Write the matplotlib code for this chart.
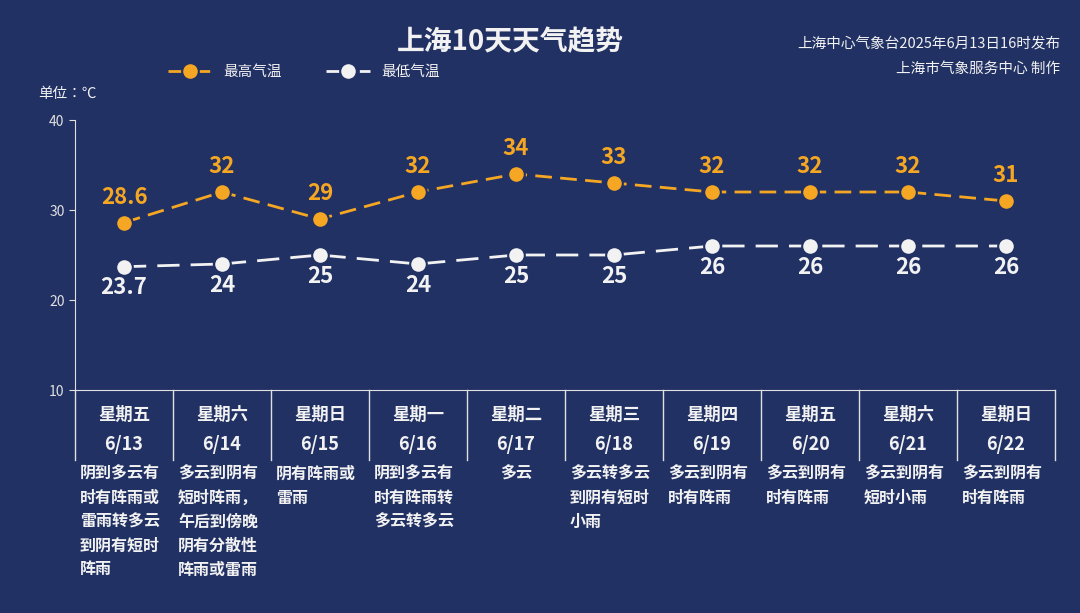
import matplotlib
matplotlib.use("Agg")
import matplotlib.pyplot as plt
import matplotlib.transforms as mtransforms
from matplotlib import font_manager as fm

cjk = [f.name for f in fm.fontManager.ttflist if "CJK" in f.name or "Noto Sans SC" in f.name]
pref = [n for n in ["Noto Sans CJK SC", "Noto Sans CJK JP", "Noto Sans CJK TC", "Noto Sans CJK KR"] if n in cjk]
fams = (pref or cjk[:1]) + ["DejaVu Sans"]
plt.rcParams["font.family"] = fams

weekdays = ["星期五", "星期六", "星期日", "星期一", "星期二", "星期三", "星期四", "星期五", "星期六", "星期日"]
dates = ["6/13", "6/14", "6/15", "6/16", "6/17", "6/18", "6/19", "6/20", "6/21", "6/22"]
high = [28.6, 32, 29, 32, 34, 33, 32, 32, 32, 31]
high_lbl = ["28.6", "32", "29", "32", "34", "33", "32", "32", "32", "31"]
low = [23.7, 24, 25, 24, 25, 25, 26, 26, 26, 26]
low_lbl = ["23.7", "24", "25", "24", "25", "25", "26", "26", "26", "26"]
weather = ["阴到多云有\n时有阵雨或\n雷雨转多云\n到阴有短时\n阵雨",
           "多云到阴有\n短时阵雨，\n午后到傍晚\n阴有分散性\n阵雨或雷雨",
           "阴有阵雨或\n雷雨",
           "阴到多云有\n时有阵雨转\n多云转多云",
           "多云",
           "多云转多云\n到阴有短时\n小雨",
           "多云到阴有\n时有阵雨",
           "多云到阴有\n时有阵雨",
           "多云到阴有\n短时小雨",
           "多云到阴有\n时有阵雨"]
yticks = [10, 20, 30, 40]

BG = "#213164"
ORANGE = "#f5a623"
WHITE = "#f2f2f2"

fig = plt.figure(figsize=(10.8, 6.13), dpi=100, facecolor=BG)
ax = fig.add_axes([75/1080, 1-390/613, 980/1080, 270/613], facecolor=BG)
x = list(range(len(high)))
ax.set_xlim(-0.5, 9.5)
ax.set_ylim(10, 40)
ax.plot(x, high, color=ORANGE, lw=2, dashes=(6, 3), marker="o", ms=12,
        mfc=ORANGE, mec=BG, mew=1.5, zorder=3)
ax.plot(x, low, color=WHITE, lw=2, dashes=(8, 4), marker="o", ms=12,
        mfc=WHITE, mec=BG, mew=1.5, zorder=3)
for i in x:
    ax.annotate(high_lbl[i], (i, high[i]), xytext=(0, 10), textcoords="offset points",
                ha="center", va="bottom", color=ORANGE, fontsize=16, fontweight="bold")
    ax.annotate(low_lbl[i], (i, low[i]), xytext=(0, -7), textcoords="offset points",
                ha="center", va="top", color=WHITE, fontsize=16, fontweight="bold")

for s in ["top", "right"]:
    ax.spines[s].set_visible(False)
for s in ["left", "bottom"]:
    ax.spines[s].set_color("#e0e0e0")
ax.set_yticks(yticks)
ax.set_yticklabels([str(v) for v in yticks], color=WHITE, fontsize=10)
ax.tick_params(axis="y", colors="#e0e0e0", length=4)
ax.set_xticks([])

trans = mtransforms.blended_transform_factory(ax.transData, fig.transFigure)
for i in range(len(x) + 1):
    ax.plot([i - 0.5, i - 0.5], [10, 10 - 70/9], color="#e0e0e0", lw=1, clip_on=False)
for i in x:
    fig.text(i, 1-415/613, weekdays[i], transform=trans, ha="center", va="center",
             color=WHITE, fontsize=12.5, fontweight="bold")
    fig.text(i, 1-444/613, dates[i], transform=trans, ha="center", va="center",
             color=WHITE, fontsize=13, fontweight="bold")
    if i != 4:
        fig.text(i - 0.45, 1-466/613, weather[i], transform=trans,
                 ha="left", va="top", color=WHITE, fontsize=11.5, fontweight="bold", linespacing=1.6)
fig.text(4, 1-466/613, weather[4], transform=trans, ha="center", va="top",
         color=WHITE, fontsize=11.5, fontweight="bold")

fig.text(510/1080, 1-42/613, "上海10天天气趋势", ha="center", va="center",
         color=WHITE, fontsize=20, fontweight="bold")
fig.text(1060/1080, 1-44/613, "上海中心气象台2025年6月13日16时发布", ha="right", va="center",
         color=WHITE, fontsize=10.5)
fig.text(1060/1080, 1-69/613, "上海市气象服务中心 制作", ha="right", va="center",
         color=WHITE, fontsize=10.5)
fig.text(38/1080, 1-94/613, "单位：℃", ha="left", va="center", color=WHITE, fontsize=10.5)

ax.legend(["最高气温", "最低气温"], loc="lower left", bbox_to_anchor=(155/1080, 1-92/613),
          bbox_transform=fig.transFigure, ncol=2, frameon=False, labelcolor=WHITE,
          fontsize=10.5, handlelength=3, columnspacing=3)
fig.savefig("out.png", dpi=100, facecolor=BG)
